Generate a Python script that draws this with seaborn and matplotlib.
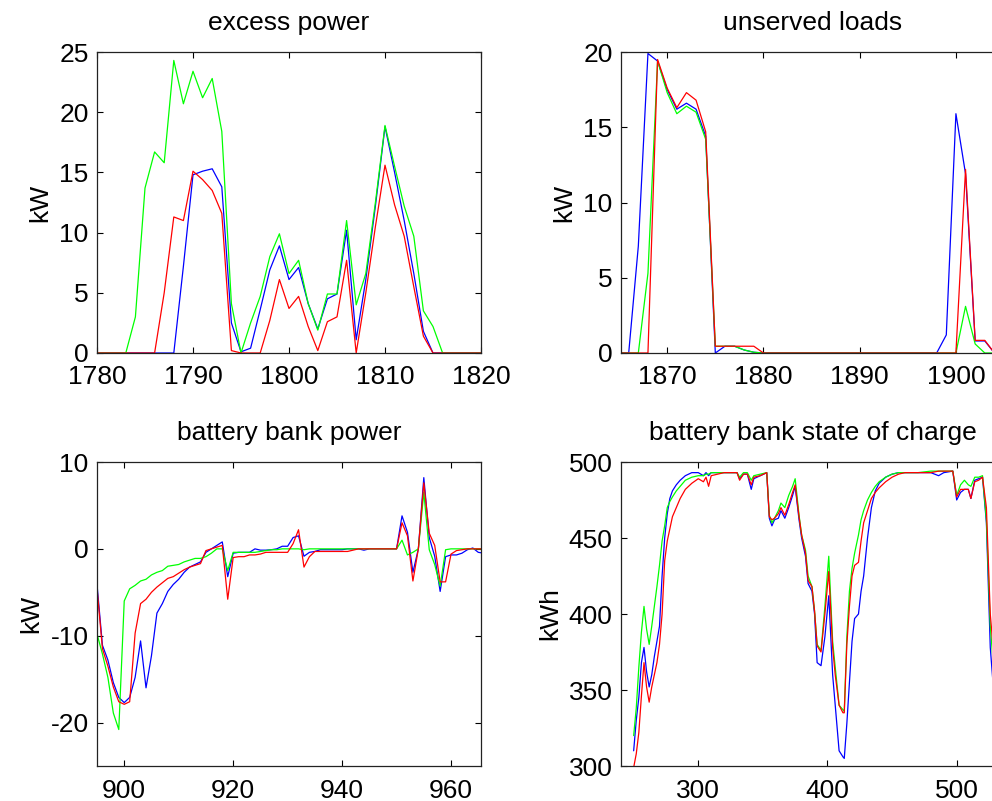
import matplotlib
matplotlib.use("Agg")
import matplotlib.pyplot as plt
import seaborn as sns
import pandas as pd

# ---- excess power ----
excess_t = list(range(1780, 1821))
excess_blue = [0, 0, 0, 0, 0, 0, 0, 0, 0, 7.2, 14.8, 15.1, 15.3, 13.8, 2.5, 0.1, 0.4, 3.6, 6.9, 8.9,
               6.1, 7.1, 4.1, 2.0, 4.5, 4.9, 10.2, 1.1, 6.1, 12.2, 18.8, 15.0, 11.0, 6.6, 1.8, 0,
               0, 0, 0, 0, 0]
excess_green = [0, 0, 0, 0, 3.0, 13.7, 16.7, 15.8, 24.3, 20.7, 23.4, 21.2, 22.8, 18.4, 4.1, 0, 2.5, 4.7, 8.0, 9.9,
                6.6, 7.7, 4.1, 1.9, 4.9, 4.9, 11.0, 4.0, 6.6, 12.5, 18.9, 15.5, 12.2, 9.7, 3.5, 2.2,
                0, 0, 0, 0, 0]
excess_red = [0, 0, 0, 0, 0, 0, 0, 5.0, 11.3, 11.0, 15.1, 14.4, 13.5, 11.6, 0.2, 0, 0, 0, 2.7, 6.1,
              3.7, 4.7, 2.2, 0.2, 2.6, 3.0, 7.7, 0, 5.0, 10.5, 15.6, 12.3, 9.7, 5.5, 1.4, 0,
              0, 0, 0, 0, 0]

# ---- unserved loads ----
unserved_t = list(range(1865, 1906))
unserved_blue = [0, 0, 7.1, 19.9, 19.4, 17.5, 16.2, 16.6, 16.2, 14.4, 0, 0.45, 0.45, 0.2, 0.05, 0,
                 0, 0, 0, 0, 0, 0, 0, 0, 0, 0, 0, 0, 0, 0, 0, 0, 0, 0, 1.2, 15.9, 11.9, 0.8, 0.8, 0, 0]
unserved_green = [0, 0, 0, 5.3, 19.4, 17.3, 15.9, 16.4, 16.0, 14.2, 0.45, 0.45, 0.45, 0.2, 0.05, 0,
                  0, 0, 0, 0, 0, 0, 0, 0, 0, 0, 0, 0, 0, 0, 0, 0, 0, 0, 0, 0, 3.1, 0.6, 0, 0, 0]
unserved_red = [0, 0, 0, 0, 19.5, 17.6, 16.3, 17.3, 16.8, 14.7, 0.45, 0.45, 0.45, 0.45, 0.45, 0,
                0, 0, 0, 0, 0, 0, 0, 0, 0, 0, 0, 0, 0, 0, 0, 0, 0, 0, 0, 0, 12.2, 0.84, 0.84, 0, 0]

# ---- battery bank power ----
power_t = list(range(895, 967))
power_blue = [-4.1, -11.1, -12.8, -15.4, -17.1, -17.7, -17.1, -14.8, -10.6, -16.0,
              -12.3, -7.4, -6.3, -4.9, -4.1, -3.5, -2.7, -2.1, -1.8, -1.5,
              -0.4, 0.0, 0.4, 0.8, -3.2, -0.5, -0.4, -0.4, -0.4, 0.0,
              -0.15, -0.15, -0.1, 0.0, 0.3, 0.3, 1.3, 1.5, -0.85, -0.4,
              -0.3, -0.1, -0.1, -0.1, -0.1, -0.1, 0.0, 0.0, 0.0, -0.15,
              0, 0, 0, 0, 0, 0, 3.8, 1.9, -2.7, 0.0,
              8.2, 1.3, -0.85, -4.9, -0.9, -0.7, -0.7, -0.5, -0.1, 0.1,
              -0.4, -0.5]
power_green = [-9.8, -12.1, -14.8, -18.9, -20.8, -6.0, -4.6, -4.2, -3.7, -3.5,
               -3.0, -2.7, -2.5, -2.0, -1.9, -1.8, -1.5, -1.3, -1.1, -1.1,
               -0.9, -0.5, 0.0, 0.0, -2.5, -0.4, -0.4, -0.4, -0.4, -0.4,
               -0.3, -0.2, -0.1, -0.1, 0, 0, 0, 0, -0.1, 0,
               0, 0, 0, 0, 0, 0, 0, 0, 0, 0,
               0, 0, 0, 0, 0, 0, 1.0, -0.7, -0.4, 0.0,
               6.5, -0.1, -1.8, -4.3, -0.1, 0, 0, 0, 0, 0,
               0, 0]
power_red = [-4.5, -11.5, -13.5, -15.9, -17.6, -17.9, -17.6, -9.7, -6.3, -5.8,
             -5.0, -4.4, -3.9, -3.4, -3.2, -2.8, -2.4, -2.1, -1.9, -1.7,
             -0.2, 0.0, 0.2, 0.4, -5.8, -1.0, -0.9, -0.9, -0.7, -0.7,
             -0.6, -0.4, -0.4, -0.4, -0.4, -0.4, 0.6, 2.2, -2.1, -0.9,
             -0.3, -0.3, -0.3, -0.3, -0.3, -0.3, -0.3, -0.15, 0, 0,
             0, 0, 0, 0, 0, 0, 3.0, 1.5, -3.7, 0.0,
             7.6, 1.8, 0.4, -3.8, -3.8, -0.6, -0.2, -0.1, 0, 0,
             0, 0]

# ---- battery bank state of charge ----
soc_t = [250, 252, 254, 256, 258, 260, 262, 264, 266, 268, 270, 272, 274, 276, 278, 280, 283, 286,
         290, 295, 300, 304, 306, 308, 310, 315, 320, 325, 330, 332, 335, 338, 341, 343, 348, 353,
         355, 357, 359, 362, 364, 367, 370, 373, 375, 378, 380, 383, 385, 388, 390, 392, 395, 398,
         401, 404, 406, 409, 412, 413, 415, 417, 419, 421, 424, 426, 428, 431, 434, 437, 440, 445,
         450, 455, 460, 470, 480, 486, 490, 497, 500, 503, 506, 509, 511, 514, 517, 520, 523, 526,
         529, 533, 537]
soc_blue = [310, 330, 345, 368, 378, 362, 352, 360, 372, 382, 392, 425, 450, 466, 476, 481, 485, 488,
            491, 493, 493, 491, 493, 491, 493, 493, 493, 493, 493, 489, 492, 492, 482, 489, 491, 493,
            463, 458, 462, 463, 468, 463, 470, 478, 484, 462, 450, 438, 420, 415, 400, 368, 366, 385,
            412, 360, 340, 310, 306, 305, 328, 355, 382, 397, 400, 415, 425, 450, 470, 481, 486, 490,
            492, 493, 493, 493, 493, 491, 493, 494, 475, 480, 482, 482, 476, 488, 489, 490, 460, 378,
            345, 325, 315]
soc_green = [320, 338, 365, 388, 405, 390, 380, 392, 405, 418, 432, 448, 458, 470, 474, 477, 481, 484,
             488, 490, 491, 491, 492, 492, 493, 493, 493, 493, 493, 490, 493, 493, 488, 491, 492, 493,
             465, 460, 463, 468, 473, 470, 478, 484, 489, 465, 452, 442, 425, 418, 402, 380, 376, 405,
             438, 382, 365, 340, 337, 336, 385, 415, 430, 440, 452, 462, 468, 475, 480, 484, 487, 490,
             492, 493, 493, 493, 494, 494, 494, 494, 478, 485, 488, 485, 484, 490, 490, 491, 462, 392,
             360, 340, 330]
soc_red = [299, 308, 322, 346, 368, 352, 342, 352, 360, 368, 380, 400, 435, 448, 456, 464, 470, 476,
           482, 486, 489, 487, 490, 484, 491, 492, 493, 493, 493, 488, 492, 492, 485, 490, 491, 493,
           464, 462, 463, 466, 470, 465, 472, 480, 485, 464, 452, 440, 422, 418, 402, 379, 375, 400,
           428, 378, 360, 340, 335, 335, 380, 405, 425, 432, 434, 448, 460, 468, 476, 480, 483, 487,
           490, 492, 493, 493, 493, 494, 494, 494, 477, 482, 482, 482, 476, 487, 488, 490, 470, 400,
           370, 350, 340]

runs = ["blue", "green", "red"]
palette = {"blue": "#0000ff", "green": "#00ff00", "red": "#ff0000"}


def long_frame(t, b, g, r):
    parts = []
    for name, vals in zip(runs, [b, g, r]):
        parts.append(pd.DataFrame({"t": t, "v": vals, "run": name}))
    return pd.concat(parts, ignore_index=True)


sns.set_style("ticks")
plt.rcParams["font.family"] = ["Liberation Sans", "DejaVu Sans"]
plt.rcParams["font.size"] = 19
plt.rcParams["text.color"] = "black"
plt.rcParams["axes.labelcolor"] = "black"
plt.rcParams["axes.unicode_minus"] = False

fig = plt.figure(figsize=(9.92, 8.01), dpi=100)
W, H = 992.0, 801.0
aw = 384 / W
top_b, top_h = 1 - 353 / H, 301 / H
bot_b, bot_h = 1 - 766 / H, 304 / H
lx, rx = 97 / W, 621 / W

panels = [
    ([lx, top_b, aw, top_h], long_frame(excess_t, excess_blue, excess_green, excess_red),
     "excess power", "kW", (1780, 1820), (0, 25), [1780, 1790, 1800, 1810, 1820], [0, 5, 10, 15, 20, 25]),
    ([rx, top_b, aw, top_h], long_frame(unserved_t, unserved_blue, unserved_green, unserved_red),
     "unserved loads", "kW", (1865.2, 1905.1), (0, 20), [1870, 1880, 1890, 1900], [0, 5, 10, 15, 20]),
    ([lx, bot_b, aw, bot_h], long_frame(power_t, power_blue, power_green, power_red),
     "battery bank power", "kW", (895, 965.5), (-25, 10), [900, 920, 940, 960], [-20, -10, 0, 10]),
    ([rx, bot_b, aw, bot_h], long_frame(soc_t, soc_blue, soc_green, soc_red),
     "battery bank state of charge", "kWh", (240.2, 537.4), (300, 500), [300, 400, 500],
     [300, 350, 400, 450, 500]),
]

for rect, df, title, ylab, xl, yl, xt, yt in panels:
    ax = fig.add_axes(rect)
    sns.lineplot(data=df, x="t", y="v", hue="run", hue_order=runs, palette=palette,
                 legend=False, ax=ax, lw=0.9, estimator=None)
    ax.set_xlim(*xl)
    ax.set_ylim(*yl)
    ax.set_xticks(xt)
    ax.set_yticks(yt)
    ax.set_xlabel("")
    ax.set_ylabel(ylab, fontsize=19, labelpad=5, color="black")
    ax.set_title(title, fontsize=19, pad=16, color="black")
    ax.tick_params(direction="in", top=True, right=True, length=4, width=0.8,
                   labelsize=19, colors="black")
    ax.tick_params(axis="x", pad=9)
    ax.tick_params(axis="y", pad=6)
    for sp in ax.spines.values():
        sp.set_visible(True)
        sp.set_color("#222222")
        sp.set_linewidth(0.9)

fig.savefig("out.png", dpi=100)
